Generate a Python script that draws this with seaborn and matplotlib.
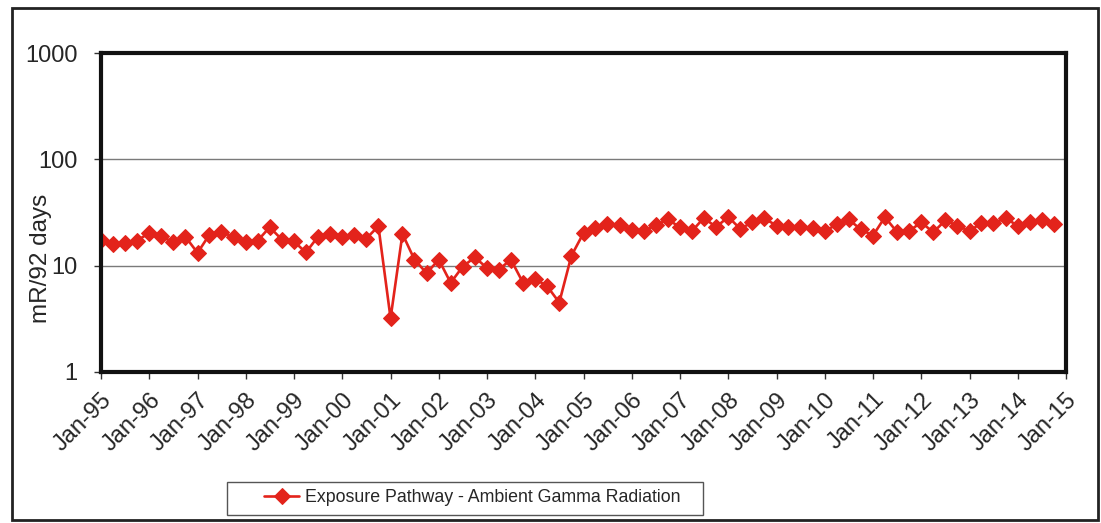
import matplotlib.pyplot as plt
import matplotlib.dates as mdates
import matplotlib.ticker as mticker
from matplotlib.patches import Rectangle
import pandas as pd
import seaborn as sns

# quarterly readings, Jan-95 .. Oct-14
START = "1995-01-01"
N_QUARTERS = 80
DOSE_1995_2000 = [17.6, 16.1, 16.4, 17.2, 20.3, 18.9, 16.6, 18.7, 13.2, 19.6,
                  20.6, 18.7, 16.6, 17.2, 23.0, 17.6, 16.9, 13.3, 18.7, 19.9]
DOSE_2000_2005 = [18.8, 19.6, 18.0, 23.5, 3.2, 19.9, 11.4, 8.5, 11.4, 6.9,
                  9.8, 12.0, 9.5, 9.2, 11.4, 6.9, 7.5, 6.4, 4.5, 12.4]
DOSE_2005_2010 = [20.3, 22.7, 24.7, 24.0, 21.5, 21.1, 24.0, 27.2, 23.0, 21.1,
                  28.2, 23.0, 28.8, 22.2, 25.6, 27.8, 23.8, 23.2, 23.0, 22.8]
DOSE_2010_2015 = [21.1, 24.4, 27.2, 21.9, 19.2, 28.6, 20.8, 21.1, 25.6, 20.6,
                  26.6, 23.8, 21.1, 25.3, 25.3, 27.8, 23.8, 25.6, 26.7, 24.7]
Y_TICKS = [1, 10, 100, 1000]
SERIES_NAME = "Exposure Pathway - Ambient Gamma Radiation"
Y_LABEL = "mR/92 days"

RED = "#E3231B"
W, H = 1101, 523


def main():
    values = DOSE_1995_2000 + DOSE_2000_2005 + DOSE_2005_2010 + DOSE_2010_2015
    df = pd.DataFrame({
        "date": pd.date_range(START, periods=N_QUARTERS, freq="QS"),
        "dose": values,
    })

    sns.set_theme(style="ticks")
    plt.rcParams["font.family"] = ["Liberation Sans", "DejaVu Sans"]

    fig = plt.figure(figsize=(W / 100, H / 100), dpi=100)
    ax = fig.add_axes([101 / W, 1 - 372 / H, 965 / W, 319 / H])

    sns.lineplot(data=df, x="date", y="dose", ax=ax, color=RED,
                 linewidth=1.9, marker="D", markersize=8.5,
                 markeredgecolor=RED, label=SERIES_NAME, legend=False)

    ax.set_yscale("log")
    ax.set_ylim(1, 1000)
    ax.set_yticks(Y_TICKS)
    ax.yaxis.set_major_formatter(mticker.FuncFormatter(lambda v, p: f"{v:g}"))
    ax.yaxis.set_minor_locator(mticker.NullLocator())
    ax.grid(axis="y", which="major", color="#7a7a7a", linewidth=1.0)

    ax.set_xlim(pd.Timestamp("1995-01-01"), pd.Timestamp("2015-01-01"))
    ax.xaxis.set_major_locator(mdates.YearLocator())
    ax.xaxis.set_major_formatter(mdates.DateFormatter("%b-%y"))
    plt.setp(ax.get_xticklabels(), rotation=45, ha="right",
             rotation_mode="anchor")

    ax.tick_params(axis="both", labelsize=17, length=5, width=1,
                   color="#333333", direction="out")
    ax.tick_params(axis="y", pad=12)
    ax.tick_params(axis="x", pad=7)
    ax.set_xlabel("")
    ax.set_ylabel(Y_LABEL, fontsize=17.5)
    ax.yaxis.set_label_coords(-0.051, 0.357)

    for side in ["left", "right", "top", "bottom"]:
        ax.spines[side].set_visible(True)
        ax.spines[side].set_linewidth(3.0)
        ax.spines[side].set_color("#111111")

    # legend entry with its own box drawn as in the original
    fig.legend(loc="center", bbox_to_anchor=(472 / W, 1 - 498 / H),
               fontsize=12.8, frameon=False, handlelength=2.0,
               handletextpad=0.3)
    fig.patches.append(Rectangle((227 / W, 1 - 515 / H), 476 / W, 33 / H,
                                 transform=fig.transFigure, fill=False,
                                 edgecolor="#555555", linewidth=1.0))

    # outer chart border
    fig.patches.append(Rectangle((12 / W, 3 / H), 1086 / W, 512 / H,
                                 transform=fig.transFigure, fill=False,
                                 edgecolor="#222222", linewidth=2))

    fig.savefig("out.png", dpi=100)
    plt.close(fig)


if __name__ == "__main__":
    main()
